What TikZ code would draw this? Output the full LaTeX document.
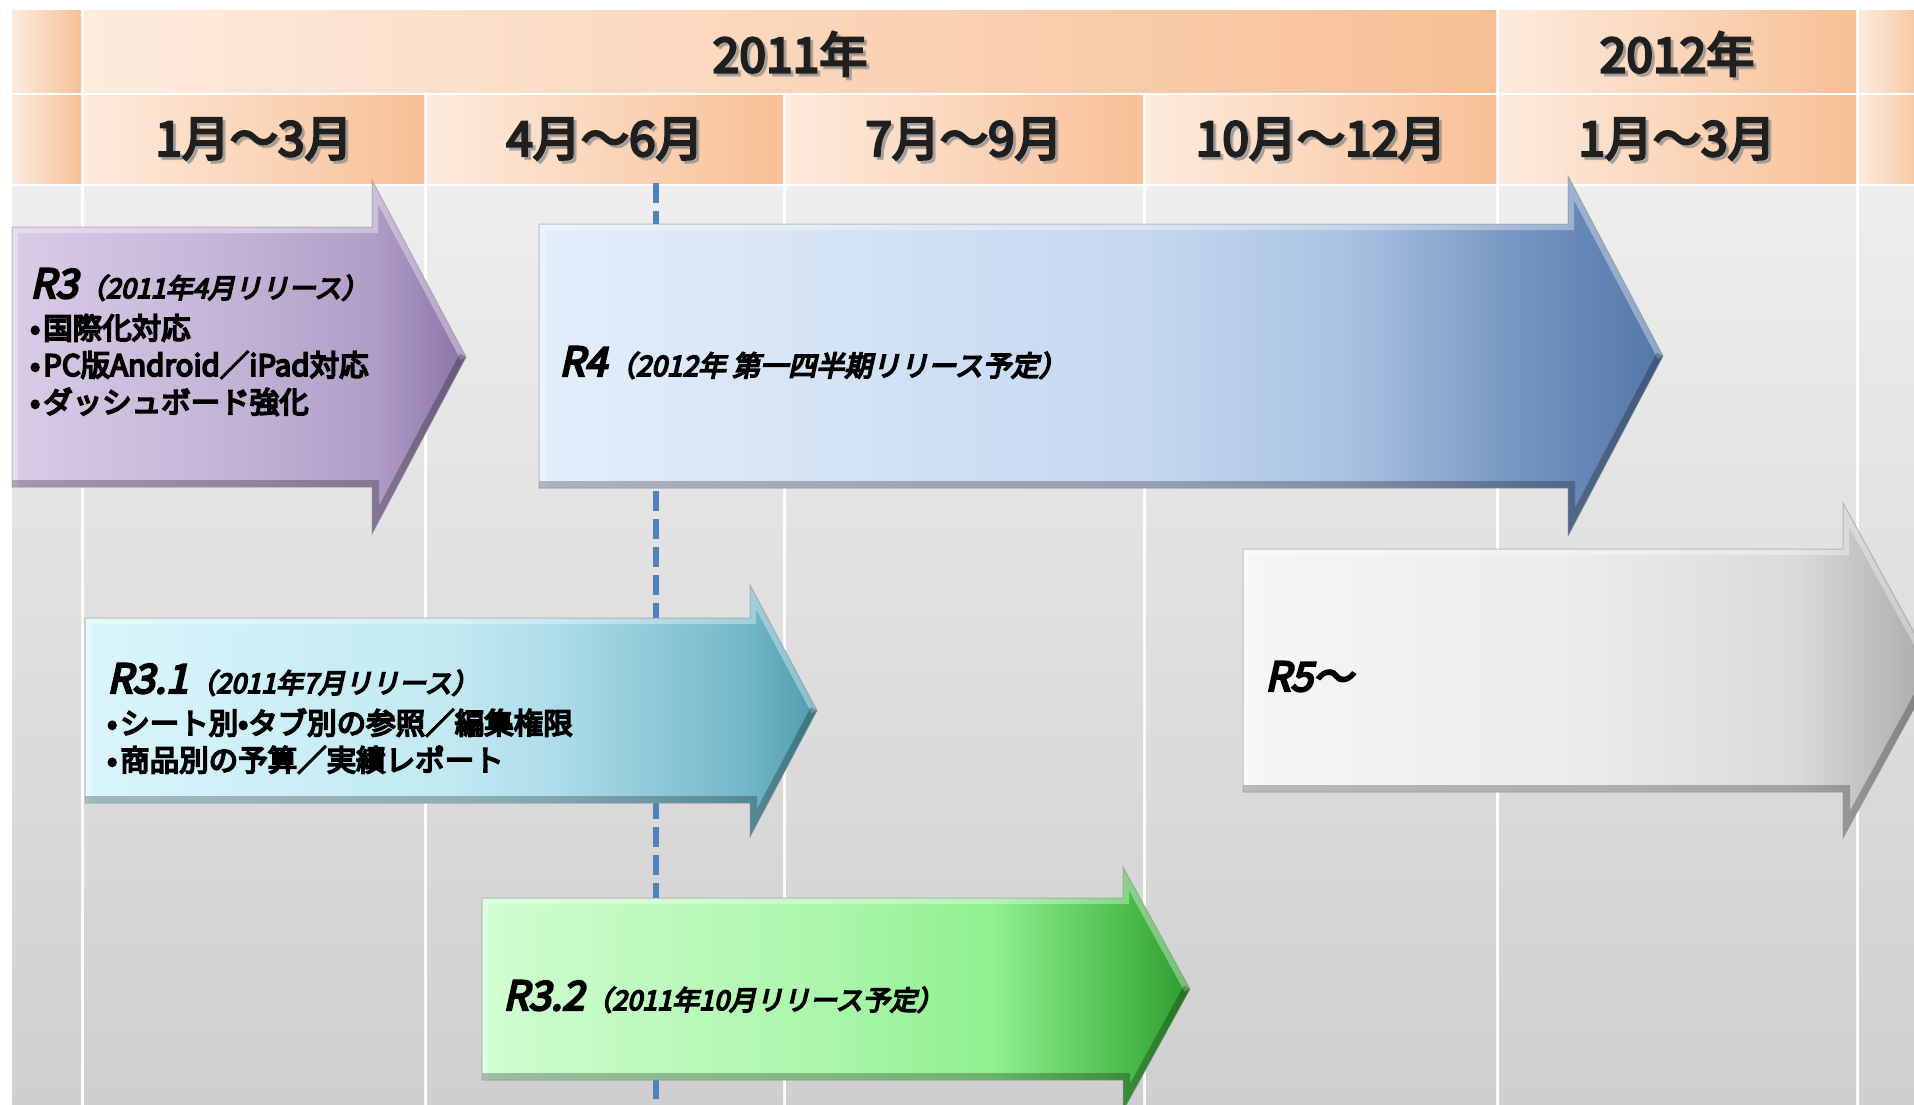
\documentclass[tikz,border=0pt]{standalone}
\usepackage{fontspec}
\newfontfamily\jphead{Noto Sans CJK JP}[FakeBold=5]
\newfontfamily\jpb{Noto Sans CJK JP}[FakeBold=6]
\newfontfamily\jpbi{Noto Sans CJK JP}[FakeBold=6,FakeSlant=0.22]

\definecolor{hdrL}{HTML}{FDEBDE}
\definecolor{hdrR}{HTML}{F8C096}
\definecolor{bodyT}{HTML}{EEEEEE}
\definecolor{bodyB}{HTML}{CFCFCF}
\definecolor{guide}{HTML}{4F81BD}

\definecolor{rta}{HTML}{D8CCE6}\definecolor{rtb}{HTML}{C2B3D6}\definecolor{rtc}{HTML}{B09DC6}\definecolor{rtd}{HTML}{8A74A6}
\definecolor{rfa}{HTML}{E3EEFB}\definecolor{rfb}{HTML}{C5D8F0}\definecolor{rfc}{HTML}{A9C2E1}\definecolor{rfd}{HTML}{7393BF}\definecolor{rfe}{HTML}{5377A8}
\definecolor{rca}{HTML}{DAF5FB}\definecolor{rcb}{HTML}{C2E9F2}\definecolor{rcc}{HTML}{AEDDE9}\definecolor{rcd}{HTML}{74B8C8}\definecolor{rce}{HTML}{4E9CAD}
\definecolor{rga}{HTML}{D0FDD0}\definecolor{rgb}{HTML}{AAF6AA}\definecolor{rgc}{HTML}{90F090}\definecolor{rgd}{HTML}{4FC04F}\definecolor{rge}{HTML}{2E9A2E}
\definecolor{rwa}{HTML}{F6F6F6}\definecolor{rwb}{HTML}{EBEBEB}\definecolor{rwc}{HTML}{DADADA}\definecolor{rwd}{HTML}{A9A9A9}

\pgfdeclarehorizontalshading{shpurple}{100bp}{color(0bp)=(rta); color(25bp)=(rta); color(50bp)=(rtb); color(65bp)=(rtc); color(75bp)=(rtd); color(100bp)=(rtd)}
\pgfdeclarehorizontalshading{shblue}{100bp}{color(0bp)=(rfa); color(25bp)=(rfa); color(52bp)=(rfb); color(61bp)=(rfc); color(69bp)=(rfd); color(75bp)=(rfe); color(100bp)=(rfe)}
\pgfdeclarehorizontalshading{shcyan}{100bp}{color(0bp)=(rca); color(25bp)=(rca); color(50bp)=(rcb); color(57bp)=(rcc); color(70bp)=(rcd); color(75bp)=(rce); color(100bp)=(rce)}
\pgfdeclarehorizontalshading{shgreen}{100bp}{color(0bp)=(rga); color(25bp)=(rga); color(50bp)=(rgb); color(61bp)=(rgc); color(70bp)=(rgd); color(75bp)=(rge); color(100bp)=(rge)}
\pgfdeclarehorizontalshading{shwhite}{100bp}{color(0bp)=(rwa); color(25bp)=(rwa); color(50bp)=(rwb); color(65bp)=(rwc); color(75bp)=(rwd); color(100bp)=(rwd)}

% #1 shading #2 left #3 top #4 bottom #5 head x #6 head top #7 head bottom #8 tip x
\newcommand\relarrow[8]{%
  \pgfmathsetmacro\amid{(#3+#4)/2}%
  \shade[shading=#1] (#2,#3) -- (#5,#3) -- (#5,#6) -- (#8,\amid) -- (#5,#7) -- (#5,#4) -- (#2,#4) -- cycle;
  \begin{scope}
    \clip (#2,#3) -- (#5,#3) -- (#5,#6) -- (#8,\amid) -- (#5,#7) -- (#5,#4) -- (#2,#4) -- cycle;
    \draw[bevelhi] (#2,#4) -- (#2,#3) -- (#5,#3) -- (#5,#6) -- (#8,\amid);
    \draw[bevello] (#8,\amid) -- (#5,#7) -- (#5,#4) -- (#2,#4);
  \end{scope}
  \draw[arrowline] (#2,#3) -- (#5,#3) -- (#5,#6) -- (#8,\amid) -- (#5,#7) -- (#5,#4) -- (#2,#4) -- cycle;
}

\begin{document}
\begin{tikzpicture}[x=1pt,y=-1pt,
  hdrcell/.style={left color=hdrL, right color=hdrR},
  bodycell/.style={top color=bodyT, bottom color=bodyB},
  hdrtext/.style={font=\jphead\fontsize{48}{48}\selectfont, text=black!88, inner sep=0pt},
  hdrshadow/.style={hdrtext, text=black!45, opacity=0.6},
  rtitle/.style={anchor=base west, inner sep=0pt, font=\jpbi\fontsize{27}{27}\selectfont},
  rbullet/.style={anchor=base west, inner sep=0pt, font=\jpb\fontsize{29.5}{29.5}\selectfont},
  bevelhi/.style={line width=12pt, white, opacity=0.35, line join=miter},
  bevello/.style={line width=14pt, black, opacity=0.25, line join=miter},
  arrowline/.style={draw=black!45, draw opacity=0.5, line width=1pt},
  dashedguide/.style={draw=guide, line width=6pt, dash pattern=on 20pt off 8pt}]
\useasboundingbox (0,0) rectangle (1914,1105);
\clip (0,0) rectangle (1914,1105);
\fill[white] (0,0) rectangle (1914,1105);

% header row 1
\foreach \a/\b in {12/81, 84/1496, 1499/1856, 1859/1930}
  \shade[hdrcell] (\a,11) rectangle (\b,93);
% header row 2
\foreach \a/\b in {12/81, 84/424, 427/783, 786/1143, 1146/1496, 1499/1856, 1859/1930}
  \shade[hdrcell] (\a,96) rectangle (\b,183);
% body columns
\foreach \a/\b in {12/81, 84/424, 427/783, 786/1143, 1146/1496, 1499/1856, 1859/1930}
  \shade[bodycell] (\a,186) rectangle (\b,1105);

% header text shadows
\node[hdrshadow] (y2011s) at (793,57) {2011年};
\node[hdrshadow] (y2012s) at (1680,57) {2012年};
\node[hdrshadow] (q1s) at (257,142) {1月～3月};
\node[hdrshadow] (q2s) at (608,142) {4月～6月};
\node[hdrshadow] (q3s) at (967,142) {7月～9月};
\node[hdrshadow] (q4s) at (1324,142) {10月～12月};
\node[hdrshadow] (q5s) at (1680,142) {1月～3月};
% header text
\node[hdrtext] (y2011) at (790,54) {2011年};
\node[hdrtext] (y2012) at (1677,54) {2012年};
\node[hdrtext] (q1) at (254,139) {1月～3月};
\node[hdrtext] (q2) at (605,139) {4月～6月};
\node[hdrtext] (q3) at (964,139) {7月～9月};
\node[hdrtext] (q4) at (1321,139) {10月～12月};
\node[hdrtext] (q5) at (1677,139) {1月～3月};

% guide line
\coordinate (gtop) at (656,183);
\coordinate (gbot) at (656,1105);
\draw[dashedguide] (gtop) -- (gbot);

% arrows
\relarrow{shpurple}{12}{227}{487}{372}{180}{534}{466}
\relarrow{shblue}{539}{224}{488}{1568}{176}{536}{1663}
\relarrow{shcyan}{85}{618}{803}{750}{585}{837}{817}
\relarrow{shwhite}{1243}{549}{792}{1843}{503}{838}{1935}
\relarrow{shgreen}{482}{898}{1080}{1123}{867}{1111}{1190}

% arrow texts
\node[rtitle] (r3t) at (30,298) {{\fontsize{40}{40}\selectfont R3}\hspace{1pt}（2011年4月リリース）};
\node[rbullet] (r3a) at (30,339) {•\hspace{3pt}国際化対応};
\node[rbullet] (r3b) at (30,376) {•\hspace{3pt}PC版Android／iPad対応};
\node[rbullet] (r3c) at (30,413) {•\hspace{3pt}ダッシュボード強化};

\node[rtitle, font=\jpbi\fontsize{28}{28}\selectfont] (r4t) at (559,376) {{\fontsize{40}{40}\selectfont R4}\hspace{1pt}（2012年 第一四半期リリース予定）};

\node[rtitle] (r31t) at (107,693) {{\fontsize{40}{40}\selectfont R3.1}\hspace{1pt}（2011年7月リリース）};
\node[rbullet] (r31a) at (107,734) {•\hspace{3pt}シート別•タブ別の参照／編集権限};
\node[rbullet] (r31b) at (107,771) {•\hspace{3pt}商品別の予算／実績レポート};

\node[rtitle] (r32t) at (503,1010) {{\fontsize{40}{40}\selectfont R3.2}\hspace{1pt}（2011年10月リリース予定）};

\node[rtitle] (r5t) at (1265,691) {{\fontsize{40}{40}\selectfont R5～}};
\end{tikzpicture}
\end{document}
